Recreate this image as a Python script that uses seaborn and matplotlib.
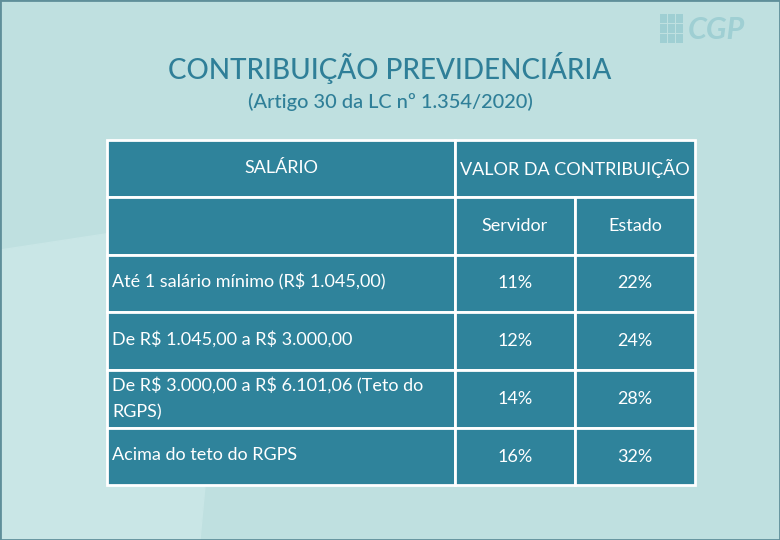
import matplotlib
matplotlib.use("Agg")
import matplotlib.pyplot as plt
import seaborn as sns
from matplotlib.patches import Rectangle, Polygon

title = "CONTRIBUIÇÃO PREVIDENCIÁRIA"
subtitle = "(Artigo 30 da LC nº 1.354/2020)"
header_salario = "SALÁRIO"
header_valor = "VALOR DA CONTRIBUIÇÃO"
sub_headers = ["Servidor", "Estado"]
faixas = [
    "Até 1 salário mínimo (R$ 1.045,00)",
    "De R$ 1.045,00 a R$ 3.000,00",
    "De R$ 3.000,00 a R$ 6.101,06 (Teto do\nRGPS)",
    "Acima do teto do RGPS",
]
servidor = [11, 12, 14, 16]
estado = [22, 24, 28, 32]

sns.set_theme(style="white")
plt.rcParams["font.family"] = ["Lato", "DejaVu Sans"]
plt.rcParams["text.parse_math"] = False

BG = "#bfe0e0"
CELL = "#2f839b"
TXT = "#2f7f98"
FS = 13

fig = plt.figure(figsize=(7.8, 5.4), dpi=100)
fig.patch.set_facecolor(BG)
ax = fig.add_axes([0, 0, 1, 1])
ax.set_xlim(0, 780)
ax.set_ylim(540, 0)
ax.axis("off")

# faint background shapes
ax.add_patch(Polygon([(0, 250), (230, 215), (200, 540), (0, 540)], color="#c9e6e6", zorder=0))
ax.add_patch(Rectangle((0, 0), 780, 540, fill=False, ec="#5f8f9a", lw=2, zorder=5))

# logo
for i in range(3):
    for j in range(3):
        ax.add_patch(Rectangle((660 + j * 8, 14 + i * 10), 6.5, 8.5, fc="#9fcfd3", ec="none", zorder=1))
ax.text(688, 30, "CGP", fontsize=22, color="#9fcfd3", style="italic",
        fontweight="bold", va="center", ha="left")

ax.text(390, 68, title, fontsize=20, color=TXT, ha="center", va="center", fontweight="medium")
ax.text(390, 102, subtitle, fontsize=14.4, color=TXT, ha="center", va="center", fontweight="medium")

x0, x1, x2, x3 = 107, 455, 575, 695
rows = [140, 197, 255, 312, 370, 428, 485]


def cell(xa, xb, ya, yb):
    ax.add_patch(Rectangle((xa, ya), xb - xa, yb - ya, fc=CELL, ec="white", lw=2, zorder=2))


cell(x0, x1, rows[0], rows[1])
cell(x1, x3, rows[0], rows[1])
cell(x0, x1, rows[1], rows[2])
cell(x1, x2, rows[1], rows[2])
cell(x2, x3, rows[1], rows[2])
ax.text((x0 + x1) / 2, 168, header_salario, color="white", fontsize=FS, ha="center", va="center", zorder=3)
ax.text((x1 + x3) / 2, 168, header_valor, color="white", fontsize=FS, ha="center", va="center", zorder=3)
ax.text((x1 + x2) / 2, 226, sub_headers[0], color="white", fontsize=FS, ha="center", va="center", zorder=3)
ax.text((x2 + x3) / 2, 226, sub_headers[1], color="white", fontsize=FS, ha="center", va="center", zorder=3)

for k, (f, s, e) in enumerate(zip(faixas, servidor, estado)):
    ya, yb = rows[k + 2], rows[k + 3]
    ym = (ya + yb) / 2
    cell(x0, x1, ya, yb)
    cell(x1, x2, ya, yb)
    cell(x2, x3, ya, yb)
    yt = ym if "\n" in f else ym - 2
    ax.text(x0 + 5, yt, f, color="white", fontsize=FS, ha="left", va="center",
            linespacing=1.75, zorder=3)
    ax.text((x1 + x2) / 2, ym, f"{s}%", color="white", fontsize=FS, ha="center", va="center", zorder=3)
    ax.text((x2 + x3) / 2, ym, f"{e}%", color="white", fontsize=FS, ha="center", va="center", zorder=3)

fig.savefig("out.png", dpi=100, facecolor=BG)
